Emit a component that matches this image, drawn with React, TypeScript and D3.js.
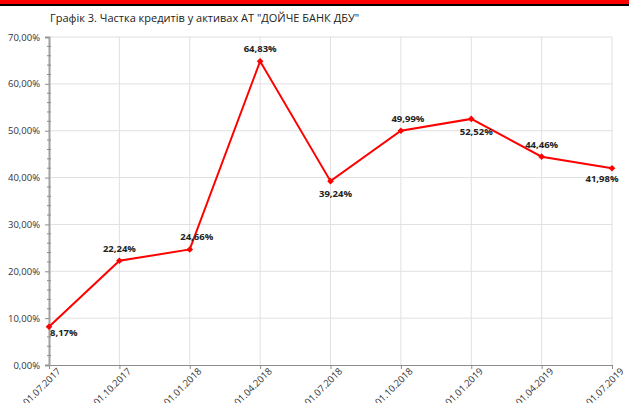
import React, { useEffect, useRef } from 'react';
import * as d3 from 'd3';

const dates = ['01.07.2017', '01.10.2017', '01.01.2018', '01.04.2018', '01.07.2018', '01.10.2018', '01.01.2019', '01.04.2019', '01.07.2019'];
const shares = [8.17, 22.24, 24.66, 64.83, 39.24, 49.99, 52.52, 44.46, 41.98];
const labelSide = ['br', 'a', 'ar', 'a', 'b', 'ar', 'b', 'a', 'bl'];
const yTicks = [0, 10, 20, 30, 40, 50, 60, 70];

const W = 629;
const H = 403;
const fmt = (v: number) => v.toFixed(2).replace('.', ',') + '%';

export default function App() {
  const svgRef = useRef<SVGSVGElement>(null);

  useEffect(() => {
    const svg = d3.select(svgRef.current);
    svg.selectAll('*').remove();

    const m = { left: 49, right: 612, top: 37, bottom: 365 };
    const x = d3.scalePoint<string>().domain(dates).range([m.left, m.right]);
    const y = d3.scaleLinear().domain([0, 70]).range([m.bottom, m.top]);

    svg.append('rect').attr('width', W).attr('height', H).attr('fill', '#fff');
    svg.append('rect').attr('width', W).attr('height', 4).attr('fill', '#ff0000');
    svg.append('rect').attr('y', 4).attr('width', W).attr('height', 2).attr('fill', '#000');

    svg.append('text')
      .attr('x', 50).attr('y', 22)
      .attr('font-family', 'Open Sans, sans-serif')
      .attr('font-size', 11)
      .attr('fill', '#222')
      .text('Графік 3. Частка кредитів у активах АТ "ДОЙЧЕ БАНК ДБУ"');

    // grid
    svg.append('g').selectAll('line').data(yTicks.slice(1)).join('line')
      .attr('x1', m.left).attr('x2', m.right)
      .attr('y1', d => y(d)).attr('y2', d => y(d))
      .attr('stroke', '#e0e0e0');
    svg.append('g').selectAll('line').data(dates.slice(1)).join('line')
      .attr('x1', d => x(d)!).attr('x2', d => x(d)!)
      .attr('y1', m.top).attr('y2', m.bottom)
      .attr('stroke', '#e0e0e0');

    // x axis
    const xa = svg.append('g').attr('transform', `translate(0,${m.bottom})`)
      .call(d3.axisBottom(x).tickSize(4).tickSizeOuter(0));
    xa.select('.domain').attr('stroke', '#8c8c8c');
    xa.selectAll('.tick line').attr('stroke', '#8c8c8c');
    xa.selectAll('.tick text')
      .attr('font-family', 'Open Sans, sans-serif')
      .attr('font-size', 9.5)
      .attr('fill', '#333')
      .attr('text-anchor', 'end')
      .attr('transform', 'translate(5,0) rotate(-45)')
      .attr('dy', '0.6em')
      .attr('y', 4)
      .attr('x', 0);

    // y axis
    const ya = svg.append('g').attr('transform', `translate(${m.left},0)`)
      .call(d3.axisLeft(y).tickValues(yTicks).tickSize(4).tickFormat(d => fmt(+d)));
    ya.select('.domain').attr('stroke', '#a0a0a0').attr('stroke-width', 2);
    ya.selectAll('.tick line').attr('stroke', '#8c8c8c');
    ya.selectAll('.tick text')
      .attr('font-family', 'Open Sans, sans-serif')
      .attr('font-size', 9.5)
      .attr('fill', '#333')
      .attr('x', -9);
    const minor = d3.range(0, 70, 2).filter(v => v % 10 !== 0);
    ya.append('g').selectAll('line').data(minor).join('line')
      .attr('x1', -2).attr('x2', 2)
      .attr('y1', d => y(d)).attr('y2', d => y(d))
      .attr('stroke', '#8c8c8c');

    // line
    const pts = dates.map((d, i) => ({ d, v: shares[i], s: labelSide[i] }));
    svg.append('path').datum(pts)
      .attr('d', d3.line<typeof pts[0]>().x(p => x(p.d)!).y(p => y(p.v)))
      .attr('fill', 'none').attr('stroke', '#ff0000').attr('stroke-width', 2);
    svg.append('g').selectAll('path').data(pts).join('path')
      .attr('d', d3.symbol(d3.symbolSquare, 22)())
      .attr('transform', p => `translate(${x(p.d)},${y(p.v)}) rotate(45)`)
      .attr('fill', '#ff0000');

    const off: Record<string, [number, number]> = {
      a: [0, -9], ar: [7, -9], b: [5, 16], br: [1, 9], bl: [-10, 14],
    };
    svg.append('g').selectAll('text').data(pts).join('text')
      .attr('x', p => x(p.d)! + off[p.s][0])
      .attr('y', p => y(p.v) + off[p.s][1])
      .attr('text-anchor', p => (p.s === 'br' ? 'start' : 'middle'))
      .attr('font-family', 'Open Sans, sans-serif')
      .attr('font-size', 9.5)
      .attr('font-weight', 'bold')
      .attr('fill', '#222')
      .text(p => fmt(p.v));
  }, []);

  return (
    <svg ref={svgRef} width={W} height={H} style={{ position: 'fixed', top: 0, left: 0 }}></svg>
  );
}
